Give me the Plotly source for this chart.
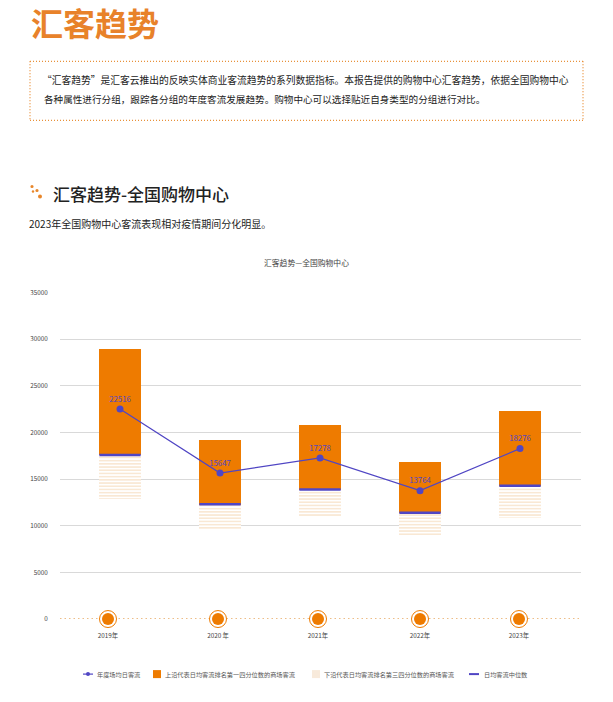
import plotly.graph_objects as go

years = ["2019年", "2020 年", "2021年", "2022年", "2023年"]
index = [0, 1, 2, 3, 4]
tick_pos = [-0.12, 0.98, 1.98, 3.0, 3.99]
mean_flow = [22516, 15647, 17278, 13764, 18276]
q1_flow = [29000, 19200, 20800, 16900, 22300]
median_flow = [17600, 12300, 13900, 11400, 14300]
q3_flow = [12900, 9700, 11000, 8900, 10900]
y_ticks = [0, 5000, 10000, 15000, 20000, 25000, 30000, 35000]
name_line = "年度场均日客流"
name_q1 = "上沿代表日均客流排名第一四分位数的商场客流"
name_q3 = "下沿代表日均客流排名第三四分位数的商场客流"
name_med = "日均客流中位数"
title_main = "汇客趋势"
intro_1 = "“汇客趋势”是汇客云推出的反映实体商业客流趋势的系列数据指标。本报告提供的购物中心汇客趋势，依据全国购物中心"
intro_2 = "各种属性进行分组，跟踪各分组的年度客流发展趋势。购物中心可以选择贴近自身类型的分组进行对比。"
heading = "汇客趋势-全国购物中心"
subhead = "2023年全国购物中心客流表现相对疫情期间分化明显。"
chart_title = "汇客趋势—全国购物中心"
watermark = "汇客云"

W, H = 613, 702
ORANGE = "#EE7B00"
PURPLE = "#5046C4"
FONT = "Noto Sans CJK SC"
px = lambda v: v / W
py = lambda v: 1 - (v - 4.7) / 0.986 / H

fig = go.Figure()
fig.add_trace(go.Bar(x=index, y=[a - b for a, b in zip(q1_flow, median_flow)], base=median_flow, name=name_q1,
    width=0.42, marker=dict(color=ORANGE, line=dict(width=0))))
fig.add_trace(go.Bar(x=index, y=[a - b for a, b in zip(median_flow, q3_flow)], base=q3_flow, name=name_q3,
    width=0.42, marker=dict(color="#FFFFFF", line=dict(width=0),
        pattern=dict(shape="-", fgcolor="#F0C48E", bgcolor="#FFFFFF", size=3.2, solidity=0.38))))
fig.add_trace(go.Scatter(x=index, y=median_flow, mode="markers", name=name_med,
    marker=dict(symbol="line-ew", size=29.5, color=PURPLE, line=dict(color=PURPLE, width=2.5))))
fig.add_trace(go.Scatter(x=tick_pos, y=[0] * 5, mode="markers", showlegend=False, hoverinfo="skip", cliponaxis=False,
    marker=dict(size=17, color="white", line=dict(color=ORANGE, width=1))))
fig.add_trace(go.Scatter(x=tick_pos, y=[0] * 5, mode="markers", showlegend=False, hoverinfo="skip", cliponaxis=False,
    marker=dict(size=12, color=ORANGE)))
fig.add_trace(go.Scatter(x=index, y=mean_flow, mode="lines+markers+text", name=name_line,
    text=[str(v) for v in mean_flow], textposition="top center", textfont=dict(size=7.8, color=PURPLE, family=FONT),
    line=dict(color=PURPLE, width=1.2), marker=dict(size=7, color=PURPLE)))

wm = [(160, 390), (140, 335), (285, 385), (300, 340), (410, 360), (535, 400), (80, 570), (175, 545),
      (250, 455), (350, 540), (460, 440), (490, 540)]
ann = [dict(xref="paper", yref="paper", x=px(x), y=py(y), text=watermark, showarrow=False, textangle=-32,
            font=dict(size=26, color="rgba(0,0,0,0.025)", family=FONT)) for x, y in wm]


def label(x, y, text, size, color="#222222", anchor="left", bold=False, weight=None):
    t = f"<b>{text}</b>" if bold else text
    f = dict(size=size, color=color, family=FONT)
    if weight:
        f["weight"] = weight
    return dict(xref="paper", yref="paper", x=px(x), y=py(y), text=t, showarrow=False, xanchor=anchor, yanchor="middle",
                font=f)


ann += [label(29, 22, title_main, 32, "#E8822A", bold=True),
        label(40, 80, intro_1, 9.75),
        label(42, 99, intro_2, 9.6),
        label(51, 193, heading, 17, weight=500),
        label(27, 223, subhead, 10),
        label(307, 262, chart_title, 7.8, "#444444", "center"),
        label(95, 673, name_line, 6.2, "#555555"),
        label(163, 673, name_q1, 6.2, "#555555"),
        label(322, 673, name_q3, 6.2, "#555555"),
        label(482, 673, name_med, 6.2, "#555555")]

dot = dict(color="#E8913A", width=1.3, dash="1px,2px")
rect = lambda x0, y0, x1, y1: dict(type="line", xref="paper", yref="paper", x0=px(x0), y0=py(y0), x1=px(x1), y1=py(y1), line=dot)
shapes = [rect(30, 61, 583, 61), rect(30, 120, 583, 120), rect(30, 61, 30, 120), rect(583, 61, 583, 120),
          dict(type="line", xref="paper", yref="y", x0=px(60), x1=px(581), y0=0, y1=0, layer="below",
               line=dict(color="#E8A860", width=1.5, dash="1.5px,3px"))]
for cx, cy, r in [(32, 186, 1.6), (37, 190, 1.6), (40, 196, 2.0), (33, 191, 1.2)]:
    shapes.append(dict(type="circle", xref="paper", yref="paper", x0=px(cx - r), x1=px(cx + r), y0=py(cy - r), y1=py(cy + r),
                       fillcolor="#E8862A", line=dict(width=0)))


def pline(x0, x1, y, color, width):
    return dict(type="line", xref="paper", yref="paper", x0=px(x0), x1=px(x1), y0=py(y), y1=py(y), line=dict(color=color, width=width))


def pbox(x0, x1, y0, y1, color):
    return dict(type="rect", xref="paper", yref="paper", x0=px(x0), x1=px(x1), y0=py(y0), y1=py(y1), fillcolor=color, line=dict(width=0))


shapes += [pline(83, 93, 673, PURPLE, 1.2),
           dict(type="circle", xref="paper", yref="paper", x0=px(86), x1=px(90), y0=py(671), y1=py(675), fillcolor=PURPLE, line=dict(width=0)),
           pbox(153, 161, 669, 677, ORANGE),
           pbox(312, 320, 669, 677, "#F8EADB"),
           pline(469, 479, 673, PURPLE, 2)]

fig.update_layout(
    width=W, height=H, margin=dict(l=0, r=0, t=0, b=0), paper_bgcolor="white", plot_bgcolor="white",
    barmode="overlay", bargap=0, font=dict(family=FONT, color="#444444"),
    xaxis=dict(domain=[px(60), px(581)], range=[-0.6, 4.61], tickmode="array", tickvals=tick_pos, ticktext=years,
               tickfont=dict(size=6.3, color="#444444"), showgrid=False, zeroline=False, showline=False,
               ticks="outside", ticklen=10, tickcolor="rgba(0,0,0,0)"),
    yaxis=dict(domain=[py(618), py(292)], range=[0, 35000], tickmode="array", tickvals=y_ticks, ticktext=[str(v) for v in y_ticks],
               ticks="outside", ticklen=10, tickcolor="rgba(0,0,0,0)", tickfont=dict(size=6.3, color="#444444"),
               gridcolor="#D9D9D9", gridwidth=1, zeroline=False, showline=False),
    annotations=ann, shapes=shapes, showlegend=False,
)
fig.write_html("out.html", config={"displayModeBar": False}, post_script="document.body.style.margin='0';")
